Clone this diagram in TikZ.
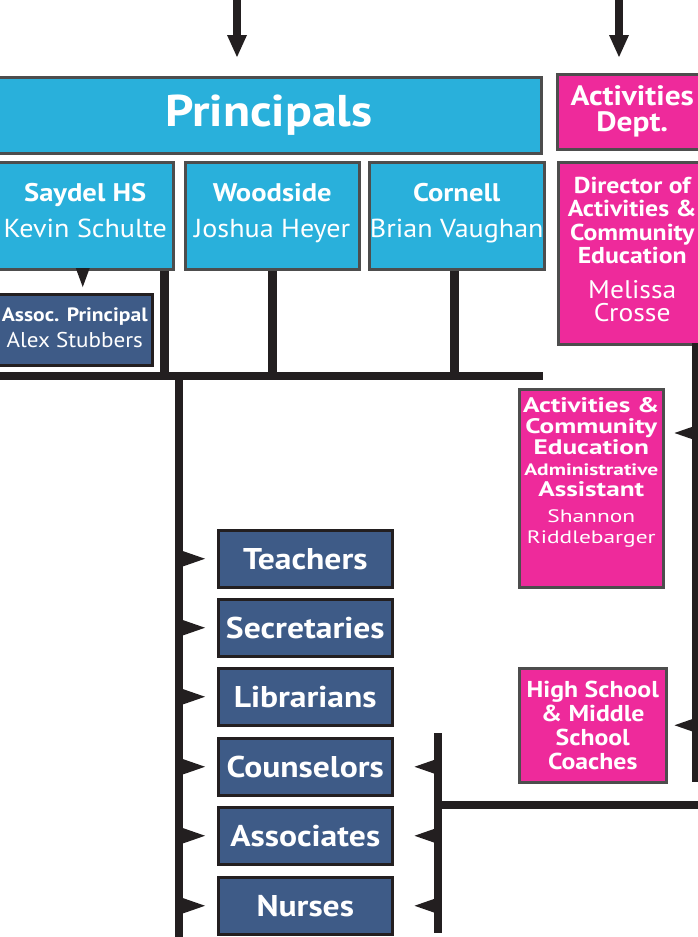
\documentclass[tikz,border=0pt]{standalone}
\usepackage{fontspec}
\setmainfont{PT Sans}[FakeStretch=1.08, BoldFeatures={FakeStretch=1.12}]
\newfontfamily\widefont{PT Sans}[FakeStretch=1.3]
\usetikzlibrary{arrows.meta}
\definecolor{cyanc}{RGB}{41,176,219}
\definecolor{pinkc}{RGB}{238,42,155}
\definecolor{navyc}{RGB}{62,91,135}
\definecolor{linec}{RGB}{35,31,32}
\definecolor{bordc}{RGB}{77,77,77}
\newcommand{\fsz}[2]{\fontsize{#1}{#2}\selectfont}
\begin{document}
\begin{tikzpicture}[x=1pt,y=-1pt,
  box/.style={anchor=north west, inner sep=0pt, align=center, text=white, line width=2.5pt},
  cbox/.style={box, fill=cyanc, draw=bordc},
  pbox/.style={box, fill=pinkc, draw=bordc},
  nbox/.style={box, fill=navyc, draw=linec},
  school/.style={cbox, minimum height=107pt, font=\fsz{26}{36}, text depth=10pt},
  staff/.style={nbox, minimum width=174pt, minimum height=57pt, font=\bfseries\fsz{30}{30}},
  wire/.style={draw=linec, line width=8pt},
  tipA/.style={-{Triangle[width=16pt,length=23pt,line width=0pt]}},
  tipB/.style={-{Triangle[width=20pt,length=22pt,line width=0pt]}},
]
\clip (0,0) rectangle (698,937);
\fill[white] (0,0) rectangle (698,937);

% top level boxes
\node[cbox, minimum width=545pt, minimum height=76pt, font=\bfseries\fsz{44.5}{48}] (principals) at (-5,76)
  {Principals};
\node[pbox, minimum width=150pt, minimum height=75pt, font=\bfseries\fsz{28}{26}] (actdept) at (556,73)
  {Activities\\Dept.};

% principals
\node[school, minimum width=176pt] (saydel) at (-4,161)
  {{\bfseries\fsz{25.5}{36}Saydel HS}\\Kevin Schulte};
\node[school, minimum width=174pt] (woodside) at (184,161)
  {{\bfseries\fsz{25.5}{36}Woodside}\\Joshua Heyer};
\node[school, minimum width=175pt] (cornell) at (368,161)
  {{\bfseries\fsz{25.5}{36}Cornell}\\Brian Vaughan};
\node[pbox, minimum width=148pt, minimum height=182pt, font=\bfseries\fsz{23}{23.5}, text depth=8pt] (director) at (557,161)
  {Director of\\Activities \&\\Community\\Education\\[11pt]{\mdseries\fsz{25.5}{25}Melissa}\\{\mdseries\fsz{25.5}{25}Crosse}};

% assoc principal
\node[nbox, minimum width=155pt, minimum height=71pt, font=\fsz{21.4}{26}, text depth=4pt] (assoc) at (-4,293)
  {{\bfseries\fsz{19.3}{26}Assoc. Principal}\\Alex Stubbers};

% activities staff
\node[pbox, minimum width=144pt, minimum height=198pt] (admin) at (518,388) {};
\node[anchor=north, inner sep=0pt, align=center, text=white, font=\widefont\bfseries\fsz{21}{21}] (admintext)
  at ([yshift=-9pt]admin.north)
  {Activities \&\\Community\\Education\\{\fsz{16.5}{20}Administrative}\\Assistant\\[5pt]{\mdseries\fsz{18}{22}Shannon}\\{\mdseries\fsz{18}{22}Riddlebarger}};
\node[pbox, minimum width=147pt, minimum height=114pt, font=\bfseries\fsz{23}{24}] (coaches) at (518,667)
  {High School\\\& Middle\\School\\Coaches};

% staff boxes
\node[staff] (teachers) at (217,529) {Teachers};
\node[staff] (secretaries) at (217,598) {Secretaries};
\node[staff] (librarians) at (217,667) {Librarians};
\node[staff] (counselors) at (217,737) {Counselors};
\node[staff] (associates) at (217,806) {Associates};
\node[staff] (nurses) at (217,876) {Nurses};

% coordinates
\coordinate (topL) at (237,-2);
\coordinate (topR) at (619,-2);
\coordinate (bus) at (-5,376);
\coordinate (busend) at (543,376);
\coordinate (sdrop) at ([xshift=-10pt]saydel.south east);
\coordinate (wdrop) at (woodside.south);
\coordinate (cdrop) at ([xshift=-2pt]cornell.south);
\coordinate (trunkL) at (179,376);
\coordinate (trunkLend) at (179,940);
\coordinate (trunkR) at (438,733);
\coordinate (trunkRend) at (438,933);
\coordinate (trunkRmid) at (438,805);
\coordinate (edgeR) at (700,805);
\coordinate (rtrunk) at (696,343);
\coordinate (rtrunkend) at (696,782);
\coordinate (admintip) at ([yshift=-45pt]admin.north east);
\coordinate (assoctop) at ([xshift=8pt]assoc.north);

% top arrows
\draw[wire, tipB, shorten >=19pt] (topL) -- (topL |- principals.north);
\draw[wire, tipB, shorten >=16pt] (topR) -- (topR |- actdept.north);

% principals bus
\draw[wire, line width=9pt] (sdrop) -- (sdrop |- bus);
\draw[wire, line width=9pt] (wdrop) -- (wdrop |- bus);
\draw[wire, line width=9pt] (cdrop) -- (cdrop |- bus);
\draw[wire, line width=8.5pt] (bus) -- (busend);
\draw[wire] (trunkL) -- (trunkLend);

% saydel -> assoc
\draw[draw=linec, line width=0.1pt, -{Triangle[width=14pt,length=19pt,line width=0pt]}, shorten >=6pt]
  (assoctop |- saydel.south) -- (assoctop);

% left trunk arrows
\foreach \s in {teachers,secretaries,librarians,counselors,associates,nurses}
  \draw[wire, tipA, shorten >=12pt] (trunkL |- \s.west) -- (\s.west);

% right trunk
\draw[wire] (trunkR) -- (trunkRend);
\draw[wire] (trunkRmid) -- (edgeR);
\foreach \s in {counselors,associates,nurses}
  \draw[wire, tipA, shorten >=21pt] (trunkR |- \s.east) -- (\s.east);

% activities trunk
\draw[wire] (rtrunk) -- (rtrunkend);
\draw[wire, tipA, shorten >=10pt] (rtrunk |- admintip) -- (admintip);
\draw[wire, tipA, shorten >=7pt] (rtrunk |- coaches.east) -- (coaches.east);
\end{tikzpicture}
\end{document}
